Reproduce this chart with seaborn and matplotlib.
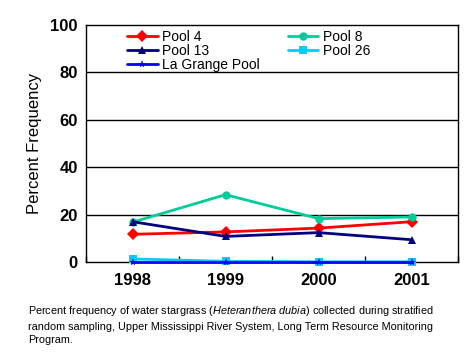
import pandas as pd
import numpy as np
import seaborn as sns
import matplotlib.pyplot as plt
from matplotlib.ticker import MultipleLocator

years = [1998, 1999, 2000, 2001]
pool4 = [11.7, 12.7, 14.3, 17.0]
pool8 = [16.8, 28.4, 18.3, 19.0]
pool13 = [17.0, 10.8, 12.4, 9.4]
pool26 = [1.3, 0.3, 0.1, 0.1]
lagrange = [0.0, 0.0, 0.0, 0.0]
names = ["Pool 4", "Pool 8", "Pool 13", "Pool 26", "La Grange Pool"]
colors = ["#FF0000", "#00CC99", "#000080", "#00CCFF", "#0000FF"]
markers = ["D", "o", "^", "s", "*"]

df = pd.concat([pd.DataFrame({"year": years, "value": v, "pool": n})
                for n, v in zip(names, [pool4, pool8, pool13, pool26, lagrange])])

sns.set_style("white")
plt.rcParams['font.family'] = ['Liberation Sans', 'DejaVu Sans']
plt.rcParams['text.color'] = 'black'
plt.rcParams['axes.labelcolor'] = 'black'
plt.rcParams['xtick.color'] = 'black'
plt.rcParams['ytick.color'] = 'black'
plt.rcParams['mathtext.fontset'] = 'custom'
plt.rcParams['mathtext.rm'] = 'Liberation Sans'
plt.rcParams['mathtext.it'] = 'Liberation Sans:italic'

fig = plt.figure(figsize=(4.68, 3.6), dpi=100)
ax = fig.add_axes([0.1838, 0.2722, 0.795, 0.6584])
ax.set_xlim(1997.5, 2001.5)
ax.set_ylim(0, 100)
for y in [20, 40, 60, 80]:
    ax.axhline(y, color="black", lw=1, zorder=0)

sns.lineplot(data=df, x="year", y="value", hue="pool", style="pool",
             hue_order=names, style_order=names,
             palette=dict(zip(names, colors)), markers=dict(zip(names, markers)),
             dashes=False, lw=2, markersize=6, markeredgewidth=0,
             ax=ax, clip_on=False, zorder=3)

for s in ax.spines.values():
    s.set_color("black")
    s.set_linewidth(1)

ax.set_xticks(years)
ax.set_xticklabels([str(y) for y in years], fontsize=12, fontweight="bold")
ax.xaxis.set_minor_locator(MultipleLocator(1, offset=0.5))
ax.set_yticks([0, 20, 40, 60, 80, 100])
ax.set_yticklabels(["0", "20", "40", "60", "80", "100"], fontsize=12, fontweight="bold")
ax.tick_params(axis="x", which="major", length=0, pad=8)
ax.tick_params(axis="x", which="minor", direction="in", length=4, width=1, bottom=True)
ax.tick_params(axis="y", length=0, pad=6)
ax.set_xlabel("")
ax.set_ylabel("Percent Frequency", fontsize=12, labelpad=6)

# legend filled row by row, like the original
handles, labels = ax.get_legend_handles_labels()
lookup = dict(zip(labels, handles))
order = ["Pool 4", "Pool 13", "La Grange Pool", "Pool 8", "Pool 26"]
ax.legend([lookup[n] for n in order], order, ncol=2, loc="upper left",
          bbox_to_anchor=(0.11, 0.98), frameon=False,
          fontsize=10, handlelength=2.2, handletextpad=0.35, columnspacing=2.0,
          labelspacing=0.0, borderaxespad=0, borderpad=0)

caption = ("Percent frequency of water stargrass ($\\it{Heteranthera\\ dubia}$) collected during stratified\n"
           "random sampling, Upper Mississippi River System, Long Term Resource Monitoring\n"
           "Program.")
fig.text(28 / 468, 1 - 304 / 360, caption, fontsize=7.8, va="top", ha="left", linespacing=1.45)

plt.savefig("out.png", dpi=100)
